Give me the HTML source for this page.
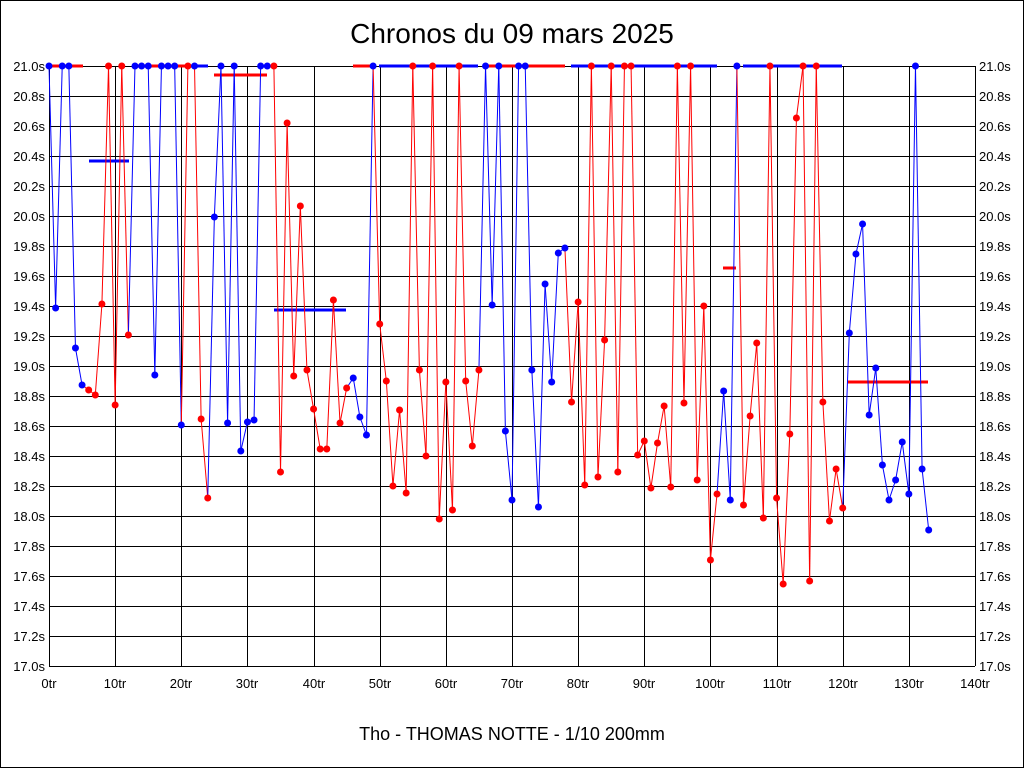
<!DOCTYPE html>
<html><head><meta charset="utf-8"><style>
html,body{margin:0;padding:0;background:#fff;}
svg{display:block;font-family:"Liberation Sans",sans-serif;}
</style></head><body>
<svg width="1024" height="768" viewBox="0 0 1024 768" id="s">
<rect x="0.5" y="0.5" width="1023" height="767" fill="#fff" stroke="#000"/>
<text x="512" y="43" font-size="28" text-anchor="middle">Chronos du 09 mars 2025</text>
<text x="512" y="740" font-size="18" text-anchor="middle">Tho - THOMAS NOTTE - 1/10 200mm</text>
<g id="grid" stroke="#000" stroke-width="1"></g>
<g id="lbl" font-size="13"></g>
<g id="data"></g>
</svg>
<script>
var NS="http://www.w3.org/2000/svg";
function el(t,a,p,txt){var e=document.createElementNS(NS,t);for(var k in a)e.setAttribute(k,a[k]);if(txt!=null)e.textContent=txt;p.appendChild(e);return e;}
var g=document.getElementById('grid'),l=document.getElementById('lbl'),d=document.getElementById('data');
for(var i=0;i<=20;i++){var y=66+i*30;el('line',{x1:49,x2:975,y1:y+0.5,y2:y+0.5},g);
var v=(21-i*0.2).toFixed(1)+'s';el('text',{x:45,y:y+5,'text-anchor':'end'},l,v);el('text',{x:979,y:y+5},l,v);}
for(var i=0;i<=14;i++){var x=Math.round(49+i*926/14);el('line',{x1:x+0.5,x2:x+0.5,y1:66,y2:666},g);
el('text',{x:x,y:688,'text-anchor':'middle'},l,(i*10)+'tr');}
var P=[[66,'b'],[308,'b'],[66,'b'],[66,'b'],[348,'b'],[385,'b'],[390,'r'],[395,'r'],[304,'r'],[66,'r'],[405,'r'],[66,'r'],[335,'r'],[66,'b'],[66,'b'],[66,'b'],[375,'b'],[66,'b'],[66,'b'],[66,'b'],[425,'b'],[66,'r'],[66,'b'],[419,'r'],[498,'r'],[217,'b'],[66,'b'],[423,'b'],[66,'b'],[451,'b'],[422,'b'],[420,'b'],[66,'b'],[66,'b'],[66,'r'],[472,'r'],[123,'r'],[376,'r'],[206,'r'],[370,'r'],[409,'r'],[449,'r'],[449,'r'],[300,'r'],[423,'r'],[388,'r'],[378,'b'],[417,'b'],[435,'b'],[66,'b'],[324,'r'],[381,'r'],[486,'r'],[410,'r'],[493,'r'],[66,'r'],[370,'r'],[456,'r'],[66,'r'],[519,'r'],[382,'r'],[510,'r'],[66,'r'],[381,'r'],[446,'r'],[370,'r'],[66,'b'],[305,'b'],[66,'b'],[431,'b'],[500,'b'],[66,'b'],[66,'b'],[370,'b'],[507,'b'],[284,'b'],[382,'b'],[253,'b'],[248,'b'],[402,'r'],[302,'r'],[485,'r'],[66,'r'],[477,'r'],[340,'r'],[66,'r'],[472,'r'],[66,'r'],[66,'r'],[455,'r'],[441,'r'],[488,'r'],[443,'r'],[406,'r'],[487,'r'],[66,'r'],[403,'r'],[66,'r'],[480,'r'],[306,'r'],[560,'r'],[494,'r'],[391,'b'],[500,'b'],[66,'b'],[505,'r'],[416,'r'],[343,'r'],[518,'r'],[66,'r'],[498,'r'],[584,'r'],[434,'r'],[118,'r'],[66,'r'],[581,'r'],[66,'r'],[402,'r'],[521,'r'],[469,'r'],[508,'r'],[333,'b'],[254,'b'],[224,'b'],[415,'b'],[368,'b'],[465,'b'],[500,'b'],[480,'b'],[442,'b'],[494,'b'],[66,'b'],[469,'b'],[530,'b']];
var C={r:'#ff0000',b:'#0000ff'};
function X(i){return 49+i*926/140;}
var bars=[[49,83,66,'r'],[135,195,66,'r'],[195,208,66,'b'],[353,373,66,'r'],[379,478,66,'b'],[485,565,66,'r'],[571,717,66,'b'],[743,842,66,'b'],[89,129,161,'b'],[214,267,75,'r'],[274,346,310,'b'],[723,736,268,'r'],[848,928,382,'r']];
bars.forEach(function(b){el('line',{x1:b[0],x2:b[1],y1:b[2],y2:b[2],stroke:C[b[3]],'stroke-width':3},d);});
for(var i=1;i<P.length;i++)el('line',{x1:X(i-1),y1:P[i-1][0],x2:X(i),y2:P[i][0],stroke:C[P[i][1]],'stroke-width':1},d);
for(var i=0;i<P.length;i++)el('circle',{cx:X(i),cy:P[i][0],r:3.5,fill:C[P[i][1]]},d);
</script>
</body></html>
